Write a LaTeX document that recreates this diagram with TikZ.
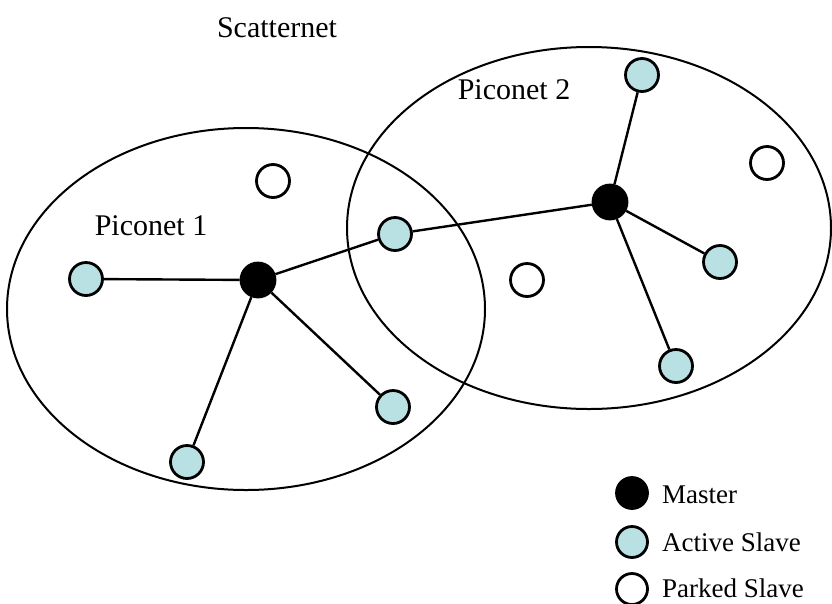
\documentclass[tikz,border=0pt]{standalone}
\usepackage{fontspec}
\setmainfont{Liberation Serif}
\definecolor{slaveblue}{RGB}{185,224,227}
\begin{document}
\begin{tikzpicture}[x=1pt,y=-1pt,
  net/.style={draw=black,line width=2pt},
  link/.style={draw=black,line width=2.4pt},
  master/.style={circle,fill=black,draw=black,line width=2.8pt,minimum size=34pt,inner sep=0pt},
  active/.style={circle,fill=slaveblue,draw=black,line width=2.8pt,minimum size=33pt,inner sep=0pt},
  parked/.style={circle,fill=white,draw=black,line width=2.8pt,minimum size=33pt,inner sep=0pt},
  label/.style={font=\fontsize{30}{34}\selectfont,inner sep=0pt},
  legend/.style={font=\fontsize{27}{31}\selectfont,inner sep=0pt,anchor=base west}]
\useasboundingbox (0,0) rectangle (832,603);
% piconet boundaries
\draw[net] (246,309) ellipse [x radius=239, y radius=181];
\draw[net] (589,228) ellipse [x radius=242, y radius=181];
% captions
\node[label] (scat) at (277,28) {Scatternet};
\node[label] (pic1) at (151,226) {Piconet 1};
\node[label] (pic2) at (514,90) {Piconet 2};
% devices
\coordinate (m1p) at (258,280);
\coordinate (m2p) at (610,202);
\node[active] (a1) at (86,279) {};
\node[active] (a2) at (187,462) {};
\node[active] (a3) at (393,407) {};
\node[active] (b) at (395,234) {};
\node[active] (a4) at (642,75) {};
\node[active] (a5) at (720,262) {};
\node[active] (a6) at (676,366) {};
\node[parked] (p1) at (273,181) {};
\node[parked] (p2) at (767,163) {};
\node[parked] (p3) at (527,280) {};
\node[master] (m1) at (m1p) {};
\node[master] (m2) at (m2p) {};
% links
\foreach \s in {a1,a2,a3,b} \draw[link] (m1) -- (\s);
\foreach \s in {b,a4,a5,a6} \draw[link] (m2) -- (\s);
% legend
\node[master,minimum size=31pt] (lm) at (632,493) {};
\node[active,minimum size=31pt] (la) at (632,542) {};
\node[parked,minimum size=31pt] (lp) at (632,589) {};
\node[legend] (tm) at (662,503) {Master};
\node[legend] (ta) at (662,551) {Active Slave};
\node[legend] (tp) at (662,597) {Parked Slave};
\end{tikzpicture}
\end{document}
